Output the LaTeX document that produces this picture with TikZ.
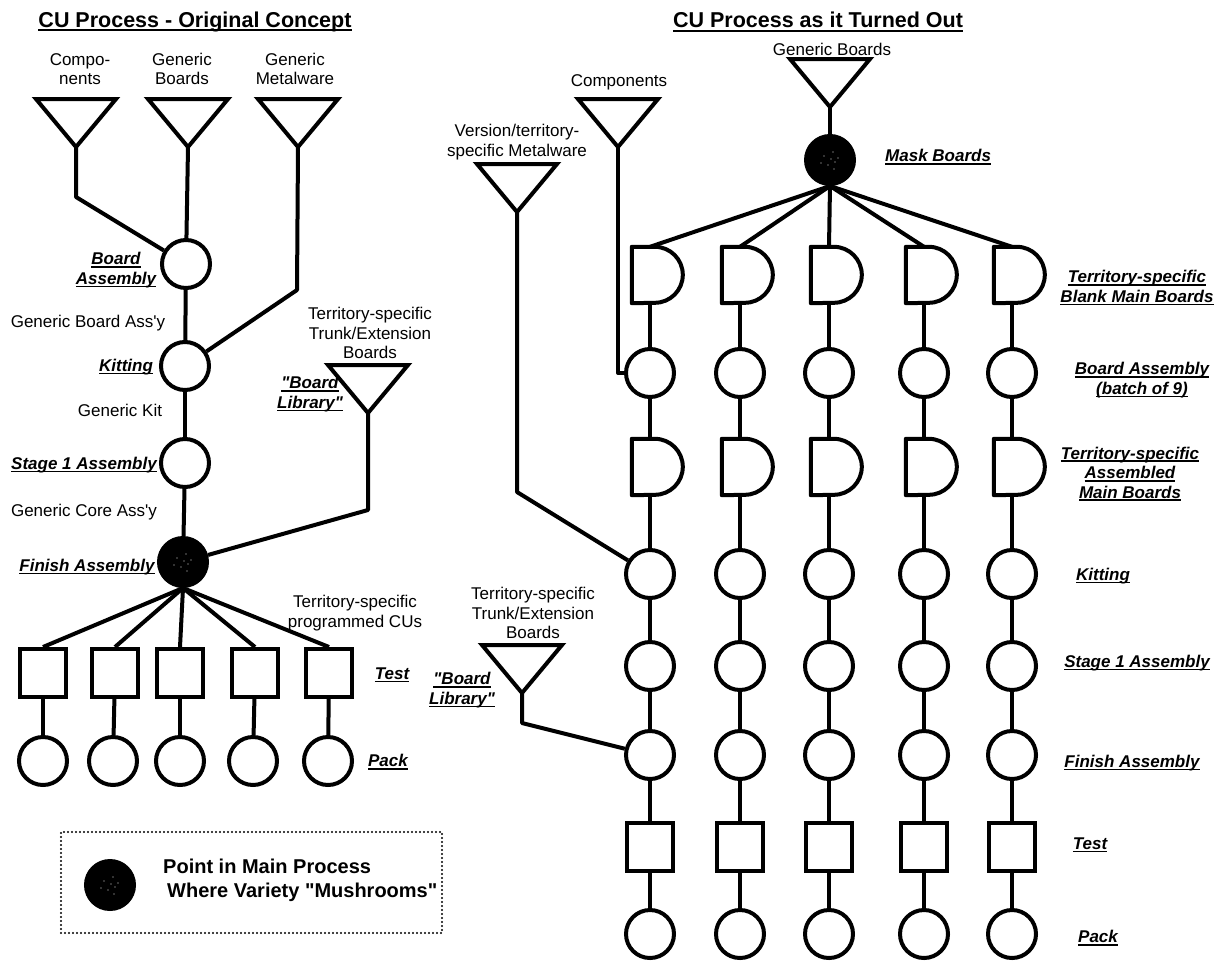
\documentclass[tikz,border=0pt]{standalone}
\usepackage{fontspec}
\setmainfont{Liberation Sans}[Ligatures=TeXOff]
\usetikzlibrary{calc}
\newcommand\myul[1]{\setbox0=\hbox{#1}\rlap{\rule[-0.18em]{\wd0}{0.1em}}\box0}
\newcommand\Tri[3]{%
  \coordinate (#1) at (#2,#3);
  \draw[conn, line join=miter] (#1) -- ++(-40,-48) -- ++(80,0) -- cycle;}
\newcommand\Dnode[3]{%
  \node[dbox] (#1) at (#2,#3) {};
  \draw[conn, fill=white] (#1.north west) -- ++(23pt,0) arc[start angle=90,end angle=-90,radius=28pt] -- (#1.south west) -- cycle;}
\newcommand\Speck[1]{%
  \foreach \dx/\dy in {-6/-4,3/-8,5/2,-2/5,8/-2,-9/3,1/-1,4/9}
    \fill[white!75!gray] ($(#1)+(\dx,\dy)$) circle (0.7pt);}
\begin{document}
\begin{tikzpicture}[x=1pt,y=-1pt,
  conn/.style={line width=4pt, line join=round},
  circ/.style={circle, draw, line width=4pt, fill=white, minimum size=48pt, inner sep=0},
  fcirc/.style={circ, fill=black},
  sqbox/.style={rectangle, draw, line width=4pt, fill=white, minimum width=46pt, minimum height=48pt, inner sep=0},
  dbox/.style={rectangle, minimum width=36pt, minimum height=56pt, inner sep=0},
  lbl/.style={font=\fontsize{17}{19.5}\selectfont, align=center, inner sep=0},
  ilbl/.style={font=\fontsize{17}{19.5}\selectfont\bfseries\itshape, align=center, inner sep=0},
  ttl/.style={font=\fontsize{21.5}{24}\selectfont\bfseries, inner sep=0},
  legbox/.style={rectangle, draw, line width=2.4pt, dash pattern=on 0pt off 4pt, line cap=round, minimum width=381pt, minimum height=101pt, inner sep=0}]
\useasboundingbox (0,0) rectangle (1225,961);

% ---------------- titles
\node[ttl] (ltitle) at (195,22) {\myul{CU Process - Original Concept}};
\node[ttl] (rtitle) at (818,22) {\myul{CU Process as it Turned Out}};

% ---------------- LEFT: original concept
\Tri{t1}{76}{147}
\Tri{t2}{188}{147}
\Tri{t3}{298}{147}
\Tri{ttl}{368}{413}
\node[lbl] (lcomp) at (80,69) {Compo-\\nents};
\node[lbl] (lgb) at (182,69) {Generic\\Boards};
\node[lbl] (lgm) at (295,69) {Generic\\Metalware};

\node[circ] (ba) at (186,264) {};
\node[circ] (ki) at (185,366) {};
\node[circ] (s1) at (185,463) {};
\node[fcirc] (fa) at (183,562) {};
\Speck{fa}

\coordinate (c1) at (76,197);
\coordinate (c3) at (297,290);
\coordinate (c4) at (368,510);
\draw[conn] (t1) -- (c1) -- (ba);
\draw[conn] (t2) -- (ba);
\draw[conn] (t3) -- (c3) -- (ki);
\draw[conn] (ttl) -- (c4) -- (fa);
\draw[conn] (ba) -- (ki);
\draw[conn] (ki) -- (s1);
\draw[conn] (s1) -- (fa);

\foreach \i/\xs/\xp in {1/43/43,2/115/113,3/180/180,4/255/253,5/329/328}{
  \node[sqbox] (sq\i) at (\xs,673) {};
  \node[circ] (pk\i) at (\xp,761) {};
  \draw[conn] (fa.south) -- (sq\i.north);
  \draw[conn] (sq\i) -- (pk\i);
}

\node[ilbl] (lba) at (116,270) {\myul{Board}\\\myul{Assembly}};
\node[lbl] (lgba) at (88,323) {Generic Board Ass'y};
\node[ilbl] (lki) at (126,367) {\myul{Kitting}};
\node[lbl] (lgk) at (120,410) {Generic Kit};
\node[ilbl] (ls1) at (84,465) {\myul{Stage 1 Assembly}};
\node[lbl] (lgc) at (84,512) {Generic Core Ass'y};
\node[ilbl] (lfa) at (87,567) {\myul{Finish Assembly}};
\node[lbl] (ltt) at (370,333) {Territory-specific\\Trunk/Extension\\Boards};
\node[ilbl] (lbl1) at (310,394) {\myul{"Board}\\\myul{Library"}};
\node[lbl] (ltp) at (355,613) {Territory-specific\\programmed CUs};
\node[ilbl] (ltest) at (392,675) {\myul{Test}};
\node[ilbl] (lpack) at (388,762) {\myul{Pack}};

% legend
\node[legbox] (leg) at (251.5,882.5) {};
\node[fcirc] (legc) at (110,885) {};
\Speck{legc}
\node[font=\fontsize{20}{24}\selectfont\bfseries, align=left, anchor=west, inner sep=0] (legtxt) at (163,880) {Point in Main Process\\\hspace{4pt}Where Variety "Mushrooms"};

% ---------------- RIGHT: as it turned out
\Tri{tg}{830}{107}
\Tri{tc}{618}{147}
\Tri{tm}{517}{212}
\Tri{ttr}{522}{693}
\node[lbl] (rgb) at (832,49) {Generic Boards};
\node[lbl] (rcomp) at (619,82) {Components};
\node[lbl] (rvm) at (517,142) {Version/territory-\\specific Metalware};
\node[lbl] (rtt) at (533,613) {Territory-specific\\Trunk/Extension\\Boards};
\node[ilbl] (rbl) at (462,690) {\myul{"Board}\\\myul{Library"}};

\node[fcirc] (mask) at (830,160) {};
\Speck{mask}
\draw[conn] (tg) -- (mask);

\foreach \i/\x in {1/650,2/740,3/829,4/924,5/1012}{
  \Dnode{da\i}{\x}{275}
  \node[circ] (rb\i) at (\x,373) {};
  \Dnode{db\i}{\x}{467}
  \node[circ] (rk\i) at (\x,574) {};
  \node[circ] (rs\i) at (\x,666) {};
  \node[circ] (rf\i) at (\x,755) {};
  \node[sqbox] (rt\i) at (\x,847) {};
  \node[circ] (rp\i) at (\x,934) {};
  \draw[conn] (mask.south) -- (da\i.north);
  \draw[conn] (da\i) -- (rb\i);
  \draw[conn] (rb\i) -- (db\i);
  \draw[conn] (db\i) -- (rk\i);
  \draw[conn] (rk\i) -- (rs\i);
  \draw[conn] (rs\i) -- (rf\i);
  \draw[conn] (rf\i) -- (rt\i);
  \draw[conn] (rt\i) -- (rp\i);
}

\coordinate (mc) at (517,492);
\coordinate (trc) at (522,723);
\draw[conn] (tc) |- (rb1);
\draw[conn] (tm) -- (mc) -- (rk1);
\draw[conn] (ttr) -- (trc) -- (rf1);

\node[ilbl, anchor=west] (rmask) at (885,157) {\myul{Mask Boards}};
\node[ilbl] (rtb) at (1137,288) {\myul{Territory-specific}\\\myul{Blank Main Boards}};
\node[ilbl] (rba) at (1142,380) {\myul{Board Assembly}\\\myul{(batch of 9)}};
\node[ilbl] (rta) at (1130,474) {\myul{Territory-specific}\\\myul{Assembled}\\\myul{Main Boards}};
\node[ilbl] (rkl) at (1103,576) {\myul{Kitting}};
\node[ilbl] (rsl) at (1137,663) {\myul{Stage 1 Assembly}};
\node[ilbl] (rfl) at (1132,763) {\myul{Finish Assembly}};
\node[ilbl] (rtl) at (1090,845) {\myul{Test}};
\node[ilbl] (rpl) at (1098,938) {\myul{Pack}};
\end{tikzpicture}
\end{document}
